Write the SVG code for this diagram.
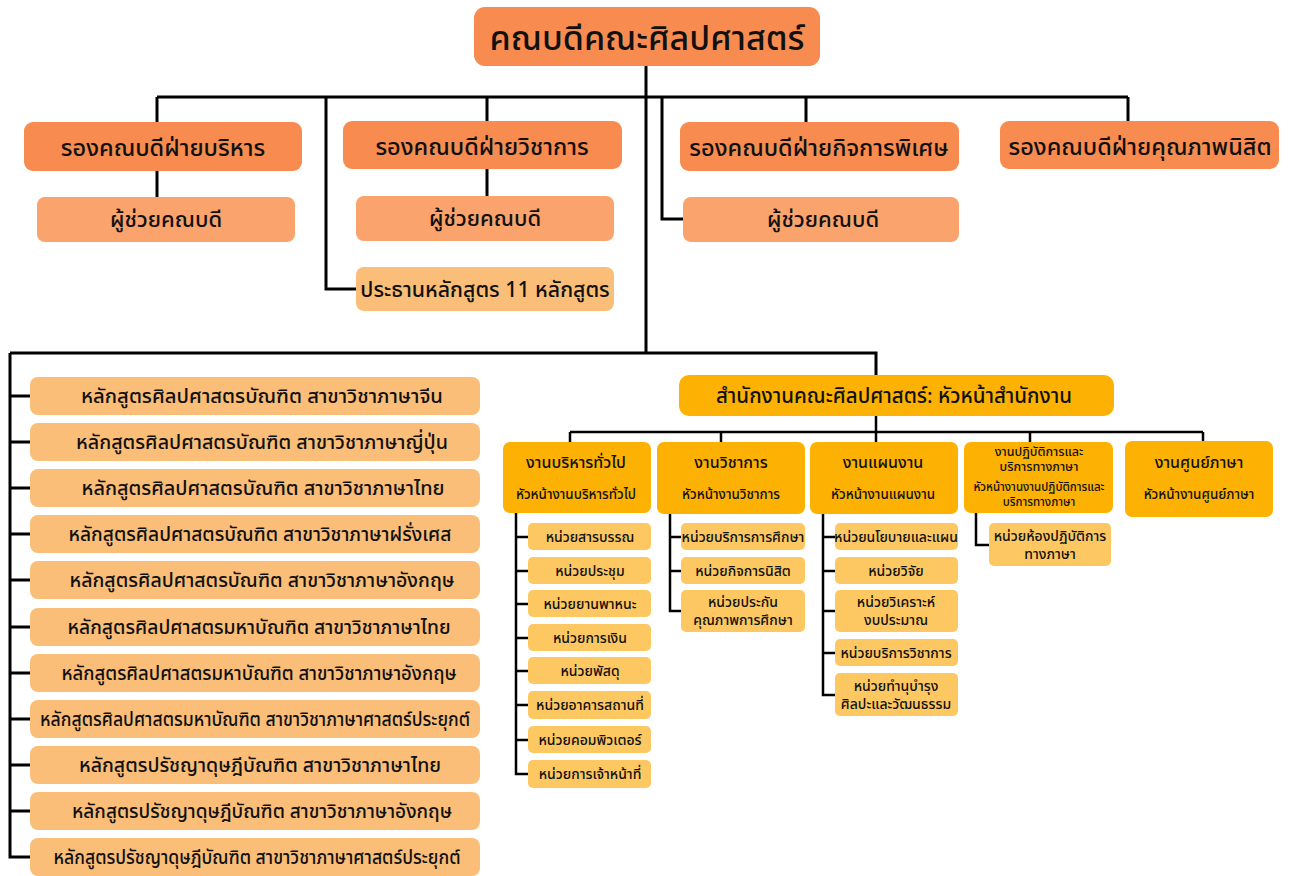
<svg xmlns="http://www.w3.org/2000/svg" width="1289" height="876" viewBox="0 0 1289 876">
<style>
text{font-family:"Noto Sans Thai","Noto Sans Thai UI","Noto Sans","Loma","Garuda",sans-serif;fill:#111;text-anchor:middle;font-weight:500}
.c1{fill:#F88C50}
.c2{fill:#FAA36C}
.c3{fill:#FBBE78}
.c4{fill:#FDB102}
.c5{fill:#FDC862}
.t0{font-size:34px}
.t1{font-size:23.5px}
.t2{font-size:22px}
.t3{font-size:19.5px}
.t4{font-size:16px}
.t5{font-size:13.4px}
.t6{font-size:14px}
.t7{font-size:12.5px}
.t8{font-size:11.5px}
.ln{fill:none;stroke:#000;stroke-width:3}
.ln2{fill:none;stroke:#000;stroke-width:2.5}
</style>
<rect width="1289" height="876" fill="#fff"/>
<g id="connectors">
<path class="ln" d="M646,66V353M157,97H1128M157,97V122M157,171V197M487,97V121M487,169V196M806,97V122M1128,97V121M326,97V289H356M662,97V219H683"/>
<path class="ln" d="M10,353H876V375M10,353V857H30M10,396H30M10,442H30M10,488H30M10,534H30M10,580H30M10,627H30M10,673H30M10,719H30M10,765H30M10,811H30"/>
<path class="ln2" d="M876,416V432M570,432H1203M570,432V442M721,432V442M876,432V442M1030,432V442M1203,432V441"/>
<path class="ln2" d="M516,513V774H528M516,537H528M516,571H528M516,604H528M516,638H528M516,671H528M516,705H528M516,740H528"/>
<path class="ln2" d="M670,514V611H681M670,537H681M670,571H681"/>
<path class="ln2" d="M823,514V695H835M823,537H835M823,571H835M823,611H835M823,653H835"/>
<path class="ln2" d="M976,513V545H989"/>
</g>
<g id="dean"><rect class="c1" x="474" y="7" width="346" height="59" rx="11"/><text class="t0" x="647" y="50">คณบดีคณะศิลปศาสตร์</text></g>
<g id="vd-admin"><rect class="c1" x="24" y="122" width="278" height="49" rx="9"/><text class="t1" x="163" y="156">รองคณบดีฝ่ายบริหาร</text></g>
<g id="vd-academic"><rect class="c1" x="343" y="121" width="279" height="48" rx="9"/><text class="t1" x="482" y="155">รองคณบดีฝ่ายวิชาการ</text></g>
<g id="vd-special"><rect class="c1" x="680" y="122" width="279" height="49" rx="9"/><text class="t1" x="819" y="156">รองคณบดีฝ่ายกิจการพิเศษ</text></g>
<g id="vd-quality"><rect class="c1" x="1000" y="121" width="279" height="48" rx="9"/><text class="t1" x="1140" y="155">รองคณบดีฝ่ายคุณภาพนิสิต</text></g>
<g id="asst-1"><rect class="c2" x="37" y="197" width="258" height="45" rx="8"/><text class="t2" x="166" y="227">ผู้ช่วยคณบดี</text></g>
<g id="asst-2"><rect class="c2" x="356" y="196" width="258" height="45" rx="8"/><text class="t2" x="485" y="226">ผู้ช่วยคณบดี</text></g>
<g id="asst-3"><rect class="c2" x="683" y="197" width="276" height="45" rx="8"/><text class="t2" x="823" y="227">ผู้ช่วยคณบดี</text></g>
<g id="chairs"><rect class="c3" x="356" y="267" width="258" height="44" rx="8"/><text x="485" y="297" style="font-size:21.3px">ประธานหลักสูตร 11 หลักสูตร</text></g>
<g id="programs">
<g id="p1"><rect class="c3" x="30" y="377" width="450" height="38" rx="8"/><text class="t3" x="262" y="403" textLength="362" lengthAdjust="spacingAndGlyphs">หลักสูตรศิลปศาสตรบัณฑิต สาขาวิชาภาษาจีน</text></g>
<g id="p2"><rect class="c3" x="30" y="423" width="450" height="38" rx="8"/><text class="t3" x="262" y="449" textLength="372" lengthAdjust="spacingAndGlyphs">หลักสูตรศิลปศาสตรบัณฑิต สาขาวิชาภาษาญี่ปุ่น</text></g>
<g id="p3"><rect class="c3" x="30" y="469" width="450" height="38" rx="8"/><text class="t3" x="263" y="495" textLength="363" lengthAdjust="spacingAndGlyphs">หลักสูตรศิลปศาสตรบัณฑิต สาขาวิชาภาษาไทย</text></g>
<g id="p4"><rect class="c3" x="30" y="515" width="450" height="38" rx="8"/><text class="t3" x="260" y="541" textLength="383" lengthAdjust="spacingAndGlyphs">หลักสูตรศิลปศาสตรบัณฑิต สาขาวิชาภาษาฝรั่งเศส</text></g>
<g id="p5"><rect class="c3" x="30" y="561" width="450" height="38" rx="8"/><text class="t3" x="262" y="587" textLength="385" lengthAdjust="spacingAndGlyphs">หลักสูตรศิลปศาสตรบัณฑิต สาขาวิชาภาษาอังกฤษ</text></g>
<g id="p6"><rect class="c3" x="30" y="608" width="450" height="38" rx="8"/><text class="t3" x="259" y="634" textLength="383" lengthAdjust="spacingAndGlyphs">หลักสูตรศิลปศาสตรมหาบัณฑิต สาขาวิชาภาษาไทย</text></g>
<g id="p7"><rect class="c3" x="30" y="654" width="450" height="38" rx="8"/><text class="t3" x="259" y="680" textLength="395" lengthAdjust="spacingAndGlyphs">หลักสูตรศิลปศาสตรมหาบัณฑิต สาขาวิชาภาษาอังกฤษ</text></g>
<g id="p8"><rect class="c3" x="30" y="700" width="450" height="38" rx="8"/><text class="t3" x="255" y="726" textLength="430" lengthAdjust="spacingAndGlyphs">หลักสูตรศิลปศาสตรมหาบัณฑิต สาขาวิชาภาษาศาสตร์ประยุกต์</text></g>
<g id="p9"><rect class="c3" x="30" y="746" width="450" height="38" rx="8"/><text class="t3" x="260" y="772" textLength="362" lengthAdjust="spacingAndGlyphs">หลักสูตรปรัชญาดุษฎีบัณฑิต สาขาวิชาภาษาไทย</text></g>
<g id="p10"><rect class="c3" x="30" y="792" width="450" height="38" rx="8"/><text class="t3" x="262" y="818" textLength="380" lengthAdjust="spacingAndGlyphs">หลักสูตรปรัชญาดุษฎีบัณฑิต สาขาวิชาภาษาอังกฤษ</text></g>
<g id="p11"><rect class="c3" x="30" y="838" width="450" height="38" rx="8"/><text class="t3" x="257" y="864" textLength="407" lengthAdjust="spacingAndGlyphs">หลักสูตรปรัชญาดุษฎีบัณฑิต สาขาวิชาภาษาศาสตร์ประยุกต์</text></g>
</g>
<g id="office"><rect class="c4" x="679" y="375" width="435" height="41" rx="10"/><text x="894" y="403" style="font-size:20.5px">สำนักงานคณะศิลปศาสตร์: หัวหน้าสำนักงาน</text></g>
<g id="dept-admin"><rect class="c4" x="503" y="442" width="148" height="71" rx="7"/><text class="t4" x="576" y="468">งานบริหารทั่วไป</text><text class="t5" x="576" y="499">หัวหน้างานบริหารทั่วไป</text></g>
<g id="dept-academic"><rect class="c4" x="657" y="442" width="148" height="72" rx="7"/><text class="t4" x="731" y="468">งานวิชาการ</text><text class="t5" x="731" y="499">หัวหน้างานวิชาการ</text></g>
<g id="dept-plan"><rect class="c4" x="810" y="442" width="148" height="72" rx="7"/><text class="t4" x="883" y="468">งานแผนงาน</text><text class="t5" x="883" y="499">หัวหน้างานแผนงาน</text></g>
<g id="dept-lab"><rect class="c4" x="964" y="442" width="149" height="71" rx="7"/><text class="t7" x="1039" y="456">งานปฏิบัติการและ<tspan x="1039" dy="15">บริการทางภาษา</tspan></text><text class="t8" x="1039" y="491">หัวหน้างานงานปฏิบัติการและ<tspan x="1039" dy="15">บริการทางภาษา</tspan></text></g>
<g id="dept-center"><rect class="c4" x="1125" y="441" width="148" height="76" rx="7"/><text class="t4" x="1199" y="468">งานศูนย์ภาษา</text><text class="t5" x="1199" y="499">หัวหน้างานศูนย์ภาษา</text></g>
<g id="units-admin">
<g id="u1"><rect class="c5" x="528" y="523" width="123" height="27" rx="5"/><text class="t6" x="590" y="542">หน่วยสารบรรณ</text></g>
<g id="u2"><rect class="c5" x="528" y="557" width="123" height="27" rx="5"/><text class="t6" x="590" y="576">หน่วยประชุม</text></g>
<g id="u3"><rect class="c5" x="528" y="590" width="123" height="27" rx="5"/><text class="t6" x="590" y="609">หน่วยยานพาหนะ</text></g>
<g id="u4"><rect class="c5" x="528" y="624" width="123" height="27" rx="5"/><text class="t6" x="590" y="643">หน่วยการเงิน</text></g>
<g id="u5"><rect class="c5" x="528" y="657" width="123" height="27" rx="5"/><text class="t6" x="590" y="676">หน่วยพัสดุ</text></g>
<g id="u6"><rect class="c5" x="528" y="691" width="123" height="28" rx="5"/><text class="t6" x="590" y="710">หน่วยอาคารสถานที่</text></g>
<g id="u7"><rect class="c5" x="528" y="726" width="123" height="27" rx="5"/><text class="t6" x="590" y="745">หน่วยคอมพิวเตอร์</text></g>
<g id="u8"><rect class="c5" x="528" y="760" width="123" height="28" rx="5"/><text class="t6" x="590" y="779">หน่วยการเจ้าหน้าที่</text></g>
</g>
<g id="units-academic">
<g id="u9"><rect class="c5" x="681" y="523" width="124" height="27" rx="5"/><text class="t6" x="743" y="542">หน่วยบริการการศึกษา</text></g>
<g id="u10"><rect class="c5" x="681" y="557" width="124" height="27" rx="5"/><text class="t6" x="743" y="576">หน่วยกิจการนิสิต</text></g>
<g id="u11"><rect class="c5" x="681" y="590" width="124" height="42" rx="5"/><text class="t6" x="743" y="607">หน่วยประกัน<tspan x="743" dy="18">คุณภาพการศึกษา</tspan></text></g>
</g>
<g id="units-plan">
<g id="u12"><rect class="c5" x="835" y="523" width="123" height="27" rx="5"/><text class="t6" x="896" y="542">หน่วยนโยบายและแผน</text></g>
<g id="u13"><rect class="c5" x="835" y="557" width="123" height="27" rx="5"/><text class="t6" x="896" y="576">หน่วยวิจัย</text></g>
<g id="u14"><rect class="c5" x="835" y="590" width="123" height="42" rx="5"/><text class="t6" x="896" y="607">หน่วยวิเคราะห์<tspan x="896" dy="18">งบประมาณ</tspan></text></g>
<g id="u15"><rect class="c5" x="835" y="639" width="123" height="27" rx="5"/><text class="t6" x="896" y="658">หน่วยบริการวิชาการ</text></g>
<g id="u16"><rect class="c5" x="835" y="673" width="123" height="43" rx="5"/><text class="t6" x="896" y="691">หน่วยทำนุบำรุง<tspan x="896" dy="18">ศิลปะและวัฒนธรรม</tspan></text></g>
</g>
<g id="units-lab">
<g id="u17"><rect class="c5" x="989" y="523" width="122" height="43" rx="5"/><text class="t6" x="1050" y="541">หน่วยห้องปฏิบัติการ<tspan x="1050" dy="18">ทางภาษา</tspan></text></g>
</g>
</svg>
